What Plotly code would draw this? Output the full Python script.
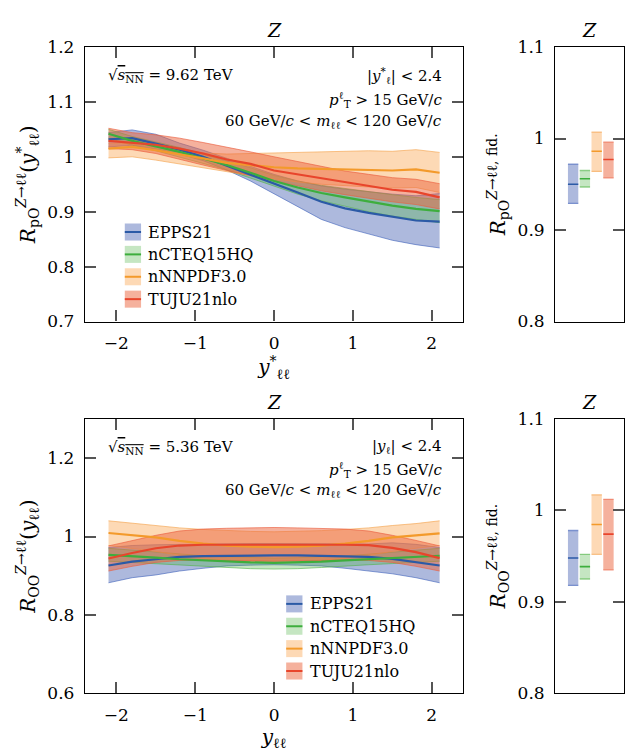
import plotly.graph_objects as go

W, H = 625, 754
FONT = "DejaVu Serif"

# ---------------- data ----------------
models = ["EPPS21", "nCTEQ15HQ", "nNNPDF3.0", "TUJU21nlo"]

y_grid = [-2.1, -1.8, -1.5, -1.2, -0.9, -0.6, -0.3, 0.0, 0.3, 0.6, 0.9, 1.2, 1.5, 1.8, 2.1]

# pO, 9.62 TeV : R(y*_ll)
po_epps_c = [1.032, 1.034, 1.024, 1.013, 1.000, 0.984, 0.968, 0.952, 0.935, 0.918, 0.906, 0.898, 0.891, 0.884, 0.882]
po_epps_hi = [1.044, 1.049, 1.041, 1.025, 1.012, 0.997, 0.982, 0.968, 0.956, 0.947, 0.941, 0.936, 0.932, 0.929, 0.933]
po_epps_lo = [1.018, 1.021, 1.014, 1.005, 0.993, 0.976, 0.956, 0.933, 0.910, 0.886, 0.871, 0.859, 0.848, 0.840, 0.834]
po_ncteq_c = [1.042, 1.029, 1.019, 1.009, 0.997, 0.985, 0.971, 0.956, 0.944, 0.934, 0.926, 0.918, 0.911, 0.905, 0.901]
po_ncteq_hi = [1.050, 1.037, 1.027, 1.017, 1.005, 0.993, 0.980, 0.966, 0.956, 0.948, 0.942, 0.936, 0.931, 0.926, 0.922]
po_ncteq_lo = [1.034, 1.021, 1.011, 1.000, 0.988, 0.976, 0.961, 0.946, 0.932, 0.920, 0.910, 0.900, 0.892, 0.886, 0.880]
po_nnpdf_c = [1.015, 1.018, 1.012, 1.005, 0.997, 0.989, 0.985, 0.981, 0.979, 0.978, 0.978, 0.977, 0.975, 0.977, 0.971]
po_nnpdf_hi = [1.025, 1.024, 1.019, 1.013, 1.007, 1.005, 1.006, 1.007, 1.007, 1.008, 1.009, 1.011, 1.010, 1.013, 1.008]
po_nnpdf_lo = [0.998, 1.000, 0.994, 0.987, 0.979, 0.973, 0.966, 0.960, 0.954, 0.950, 0.947, 0.945, 0.943, 0.944, 0.935]
po_tuju_c = [1.029, 1.026, 1.022, 1.015, 1.006, 0.995, 0.987, 0.975, 0.968, 0.960, 0.953, 0.946, 0.940, 0.936, 0.926]
po_tuju_hi = [1.052, 1.044, 1.040, 1.034, 1.026, 1.018, 1.009, 1.000, 0.991, 0.982, 0.974, 0.968, 0.962, 0.959, 0.951]
po_tuju_lo = [1.015, 1.013, 1.006, 0.995, 0.985, 0.975, 0.966, 0.956, 0.947, 0.938, 0.931, 0.924, 0.918, 0.913, 0.905]

# OO, 5.36 TeV : R(y_ll)
oo_epps_c = [0.926, 0.936, 0.942, 0.948, 0.950, 0.951, 0.952, 0.952, 0.952, 0.951, 0.950, 0.948, 0.943, 0.934, 0.926]
oo_epps_hi = [0.972, 0.977, 0.979, 0.980, 0.981, 0.981, 0.982, 0.982, 0.982, 0.981, 0.981, 0.981, 0.984, 0.980, 0.972]
oo_epps_lo = [0.882, 0.895, 0.902, 0.912, 0.919, 0.925, 0.927, 0.928, 0.927, 0.925, 0.919, 0.912, 0.905, 0.895, 0.882]
oo_ncteq_c = [0.953, 0.950, 0.946, 0.942, 0.939, 0.936, 0.934, 0.933, 0.934, 0.936, 0.939, 0.942, 0.946, 0.949, 0.951]
oo_ncteq_hi = [0.970, 0.965, 0.960, 0.955, 0.951, 0.948, 0.946, 0.945, 0.946, 0.948, 0.951, 0.955, 0.960, 0.965, 0.970]
oo_ncteq_lo = [0.937, 0.934, 0.931, 0.928, 0.925, 0.921, 0.918, 0.917, 0.918, 0.921, 0.925, 0.928, 0.931, 0.934, 0.937]
oo_nnpdf_c = [1.009, 1.004, 0.998, 0.989, 0.982, 0.977, 0.974, 0.973, 0.974, 0.977, 0.982, 0.989, 0.998, 1.003, 1.008]
oo_nnpdf_hi = [1.040, 1.034, 1.028, 1.022, 1.018, 1.015, 1.013, 1.012, 1.013, 1.015, 1.018, 1.022, 1.028, 1.033, 1.040]
oo_nnpdf_lo = [0.977, 0.970, 0.962, 0.952, 0.944, 0.938, 0.935, 0.934, 0.935, 0.938, 0.944, 0.952, 0.962, 0.970, 0.977]
oo_tuju_c = [0.944, 0.958, 0.970, 0.977, 0.979, 0.979, 0.980, 0.980, 0.980, 0.979, 0.979, 0.978, 0.971, 0.960, 0.945]
oo_tuju_hi = [0.976, 0.990, 1.003, 1.014, 1.019, 1.021, 1.022, 1.023, 1.022, 1.021, 1.019, 1.014, 1.003, 0.990, 0.976]
oo_tuju_lo = [0.912, 0.924, 0.934, 0.939, 0.940, 0.939, 0.938, 0.937, 0.938, 0.939, 0.940, 0.939, 0.934, 0.924, 0.912]

# fiducial ratios (central, low, high) per model
po_fid_c = [0.950, 0.956, 0.986, 0.977]
po_fid_lo = [0.929, 0.947, 0.964, 0.957]
po_fid_hi = [0.972, 0.965, 1.007, 0.996]
oo_fid_c = [0.948, 0.9385, 0.9845, 0.974]
oo_fid_lo = [0.918, 0.925, 0.952, 0.935]
oo_fid_hi = [0.978, 0.952, 1.017, 1.012]

x_ticks = [-2, -1, 0, 1, 2]

# ---------------- styles ----------------
line_colors = ["#2b5aa6", "#3dae3d", "#f39a2b", "#e8452c"]
band_colors = ["rgba(50,80,170,0.40)", "rgba(80,180,70,0.33)", "rgba(250,160,70,0.40)", "rgba(235,100,60,0.50)"]
edge_colors = ["rgba(60,95,185,0.60)", "rgba(80,180,70,0.60)", "rgba(245,165,80,0.65)", "rgba(235,95,65,0.65)"]

fig = go.Figure()


def add_panel(x, cen, lo, hi, xa, ya):
    for i in range(len(models)):
        fig.add_trace(go.Scatter(x=x, y=lo[i], mode="lines", line=dict(color=edge_colors[i], width=1),
                                 xaxis=xa, yaxis=ya, showlegend=False, hoverinfo="skip"))
        fig.add_trace(go.Scatter(x=x, y=hi[i], mode="lines", line=dict(color=edge_colors[i], width=1),
                                 fill="tonexty", fillcolor=band_colors[i],
                                 xaxis=xa, yaxis=ya, showlegend=False, hoverinfo="skip"))
    for i in range(len(models)):
        fig.add_trace(go.Scatter(x=x, y=cen[i], mode="lines", line=dict(color=line_colors[i], width=2.2),
                                 xaxis=xa, yaxis=ya, showlegend=False, name=models[i]))


BW = 0.88


def add_fid(c, lo, hi, xa, ya):
    idx = list(range(len(models)))
    fig.add_trace(go.Bar(x=idx, y=[h - l for h, l in zip(hi, lo)], base=lo, width=BW,
                         marker=dict(color=band_colors, line=dict(width=0)),
                         xaxis=xa, yaxis=ya, showlegend=False, hoverinfo="skip"))
    for i in idx:
        for v, col, w in ((lo[i], edge_colors[i], 1.3), (hi[i], edge_colors[i], 1.3), (c[i], line_colors[i], 1.6)):
            fig.add_trace(go.Scatter(x=[i - BW / 2, i + BW / 2], y=[v, v], mode="lines",
                                     line=dict(color=col, width=w), xaxis=xa, yaxis=ya,
                                     showlegend=False, hoverinfo="skip"))


add_panel(y_grid,
          [po_epps_c, po_ncteq_c, po_nnpdf_c, po_tuju_c],
          [po_epps_lo, po_ncteq_lo, po_nnpdf_lo, po_tuju_lo],
          [po_epps_hi, po_ncteq_hi, po_nnpdf_hi, po_tuju_hi], "x", "y")
add_fid(po_fid_c, po_fid_lo, po_fid_hi, "x2", "y2")
add_panel(y_grid,
          [oo_epps_c, oo_ncteq_c, oo_nnpdf_c, oo_tuju_c],
          [oo_epps_lo, oo_ncteq_lo, oo_nnpdf_lo, oo_tuju_lo],
          [oo_epps_hi, oo_ncteq_hi, oo_nnpdf_hi, oo_tuju_hi], "x3", "y3")
add_fid(oo_fid_c, oo_fid_lo, oo_fid_hi, "x4", "y4")

# ---------------- axes ----------------
tickfont = dict(family=FONT, size=17, color="black")
common = dict(showline=True, linecolor="black", linewidth=1.2, mirror="ticks", ticks="inside",
              ticklen=11, tickwidth=1.5, tickcolor="#555", showgrid=False, zeroline=False,
              tickfont=tickfont, ticklabelstandoff=6)

LX = [85 / W, 464 / W]
RX = [556 / W, 1.0]
TY = [1 - 320 / H, 1 - 38 / H]
BY = [1 - 702 / H, 1 - 420 / H]
title_font = dict(family=FONT, size=20, color="black")

fig.update_layout(
    xaxis=dict(common, domain=LX, anchor="y", range=[-2.4, 2.4], tickvals=x_ticks,
               title=dict(text="<i>y</i><sup>*</sup><sub>ℓℓ</sub>", font=title_font, standoff=4)),
    yaxis=dict(common, domain=TY, anchor="x", range=[0.7, 1.2], dtick=0.1, tick0=0.7,
               title=dict(text="<i>R</i><sub>pO</sub><sup><i>Z</i>→ℓℓ</sup>(<i>y</i><sup>*</sup><sub>ℓℓ</sub>)",
                          font=title_font, standoff=6)),
    xaxis2=dict(showline=True, linecolor="black", linewidth=1.2, mirror=True, ticks="",
                showticklabels=False, showgrid=False, zeroline=False, domain=RX, anchor="y2",
                range=[-1.53, 4.32]),
    yaxis2=dict(common, domain=TY, anchor="x2", range=[0.8, 1.1], dtick=0.1, tick0=0.8,
                title=dict(text="<i>R</i><sub>pO</sub><sup><i>Z</i>→ℓℓ, fid.</sup>",
                           font=title_font, standoff=6)),
    xaxis3=dict(common, domain=LX, anchor="y3", range=[-2.4, 2.4], tickvals=x_ticks,
                title=dict(text="<i>y</i><sub>ℓℓ</sub>", font=title_font, standoff=4)),
    yaxis3=dict(common, domain=BY, anchor="x3", range=[0.6, 1.3], tickvals=[0.6, 0.8, 1.0, 1.2],
                title=dict(text="<i>R</i><sub>OO</sub><sup><i>Z</i>→ℓℓ</sup>(<i>y</i><sub>ℓℓ</sub>)",
                           font=title_font, standoff=6)),
    xaxis4=dict(showline=True, linecolor="black", linewidth=1.2, mirror=True, ticks="",
                showticklabels=False, showgrid=False, zeroline=False, domain=RX, anchor="y4",
                range=[-1.53, 4.32]),
    yaxis4=dict(common, domain=BY, anchor="x4", range=[0.8, 1.1], dtick=0.1, tick0=0.8,
                title=dict(text="<i>R</i><sub>OO</sub><sup><i>Z</i>→ℓℓ, fid.</sup>",
                           font=title_font, standoff=6)),
    width=W, height=H, margin=dict(l=0, r=0, t=0, b=0),
    paper_bgcolor="white", plot_bgcolor="white", showlegend=False, barmode="overlay",
    font=dict(family=FONT, color="black"),
)

ann = []
# panel titles
for xr, yr in (("x", "y"), ("x2", "y2"), ("x3", "y3"), ("x4", "y4")):
    ann.append(dict(text="<i>Z</i>", xref=f"{xr} domain", yref=f"{yr} domain", x=0.5, y=1,
                    yanchor="bottom", yshift=4, showarrow=False, font=dict(family=FONT, size=19)))

text_font = dict(family=FONT, size=15, color="black")
sq = "√<span style='text-decoration:overline'><i>s</i><sub>NN</sub></span>"
ann += [
    dict(text=sq + " = 9.62 TeV", xref="x domain", yref="y domain", x=0.055, y=0.897,
         xanchor="left", yanchor="middle", showarrow=False, font=text_font),
    dict(text="|<i>y</i><sup>*</sup><sub>ℓ</sub>| &lt; 2.4", xref="x domain", yref="y domain", x=0.95, y=0.895,
         xanchor="right", yanchor="middle", showarrow=False, font=text_font),
    dict(text="<i>p</i><sup>ℓ</sup><sub>T</sub> &gt; 15 GeV/<i>c</i>", xref="x domain", yref="y domain", x=0.95, y=0.808,
         xanchor="right", yanchor="middle", showarrow=False, font=text_font),
    dict(text="60 GeV/<i>c</i> &lt; <i>m</i><sub>ℓℓ</sub> &lt; 120 GeV/<i>c</i>", xref="x domain", yref="y domain",
         x=0.95, y=0.727, xanchor="right", yanchor="middle", showarrow=False, font=text_font),
    dict(text=sq + " = 5.36 TeV", xref="x3 domain", yref="y3 domain", x=0.055, y=0.894,
         xanchor="left", yanchor="middle", showarrow=False, font=text_font),
    dict(text="|<i>y</i><sub>ℓ</sub>| &lt; 2.4", xref="x3 domain", yref="y3 domain", x=0.95, y=0.90,
         xanchor="right", yanchor="middle", showarrow=False, font=text_font),
    dict(text="<i>p</i><sup>ℓ</sup><sub>T</sub> &gt; 15 GeV/<i>c</i>", xref="x3 domain", yref="y3 domain", x=0.95, y=0.816,
         xanchor="right", yanchor="middle", showarrow=False, font=text_font),
    dict(text="60 GeV/<i>c</i> &lt; <i>m</i><sub>ℓℓ</sub> &lt; 120 GeV/<i>c</i>", xref="x3 domain", yref="y3 domain",
         x=0.95, y=0.738, xanchor="right", yanchor="middle", showarrow=False, font=text_font),
]

# custom legends (patch with central line)
shapes = []
leg_font = dict(family=FONT, size=16, color="black")
for xr, yr, x0 in (("x", "y", 0.1055), ("x3", "y3", 0.532)):
    for i, m in enumerate(models):
        yc = 0.326 - i * 0.0815
        shapes.append(dict(type="rect", xref=f"{xr} domain", yref=f"{yr} domain", x0=x0, x1=x0 + 0.043,
                           y0=yc - 0.031, y1=yc + 0.031, fillcolor=band_colors[i], line=dict(width=0)))
        shapes.append(dict(type="line", xref=f"{xr} domain", yref=f"{yr} domain", x0=x0, x1=x0 + 0.043,
                           y0=yc, y1=yc, line=dict(color=line_colors[i], width=2)))
        ann.append(dict(text=m, xref=f"{xr} domain", yref=f"{yr} domain", x=x0 + 0.057, y=yc,
                        xanchor="left", yanchor="middle", showarrow=False, font=leg_font))

fig.update_layout(annotations=ann, shapes=shapes)
fig.write_html("out.html")
